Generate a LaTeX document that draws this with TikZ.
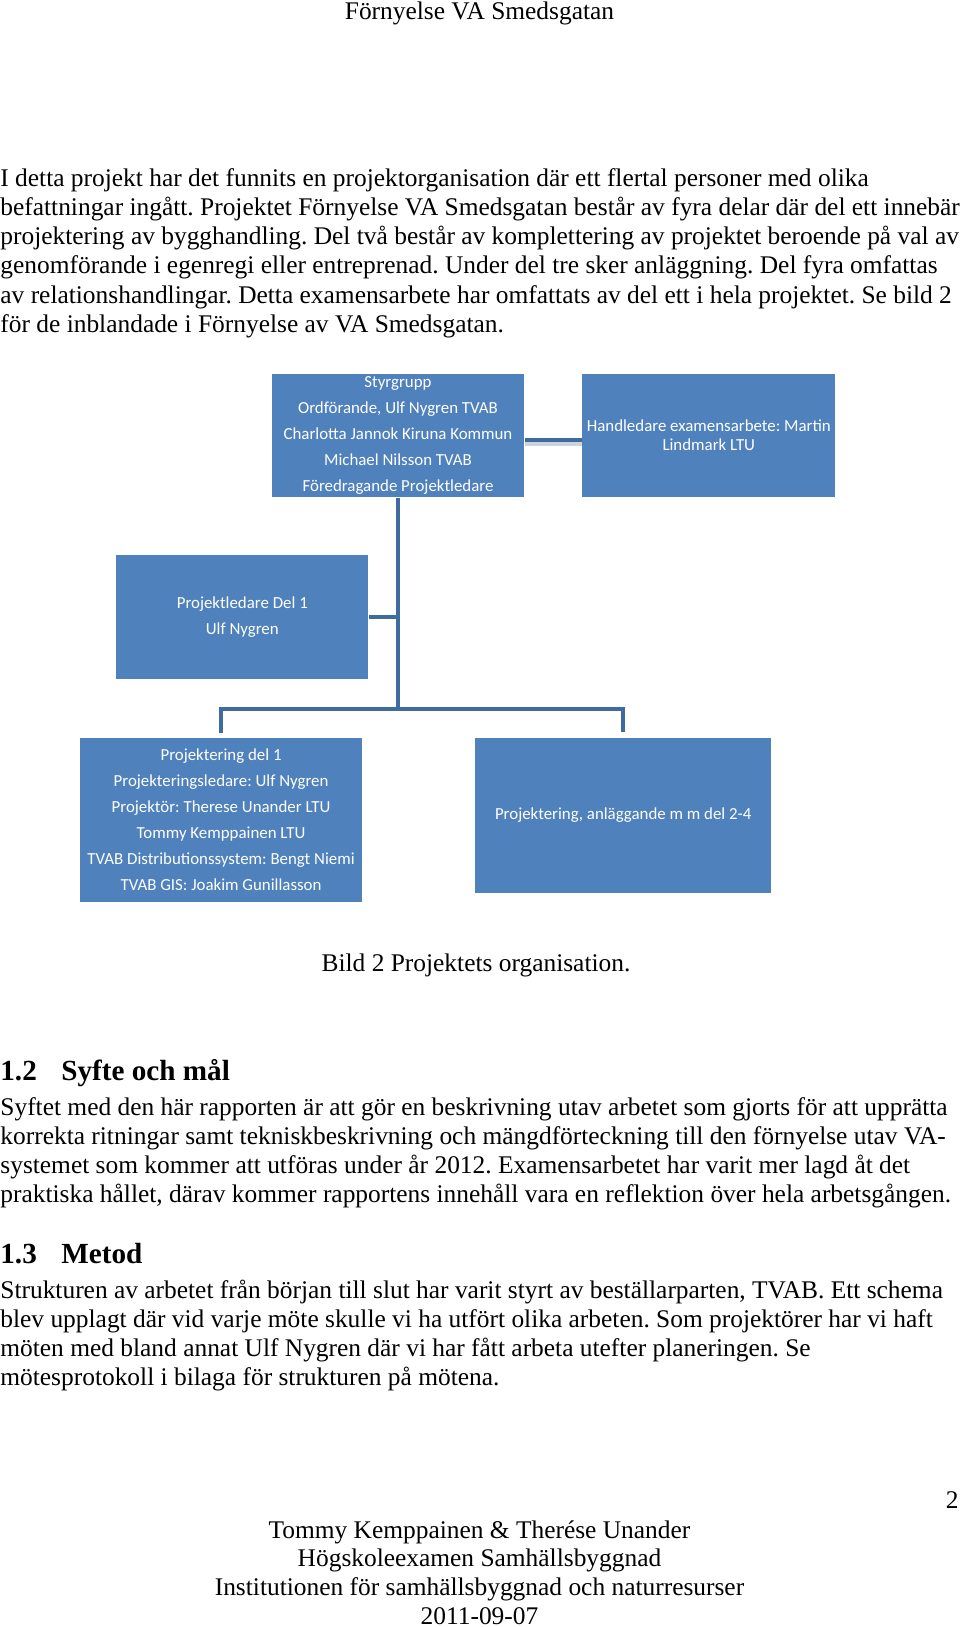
\documentclass[tikz,border=0pt]{standalone}
\usepackage{fontspec}
\setmainfont{Liberation Serif}
\newfontfamily\boxfont{Carlito}
\usetikzlibrary{positioning,calc}
\frenchspacing

\definecolor{boxblue}{HTML}{4F81BD}
\definecolor{lineblue}{HTML}{3F6C9F}
\definecolor{shadowgray}{HTML}{CDD3DB}

\tikzset{
	bodytext/.style={anchor=base west, inner sep=0pt, font=\fontsize{12.2}{14}\selectfont},
	centertext/.style={anchor=base, inner sep=0pt, font=\fontsize{12.2}{14}\selectfont},
	headtext/.style={anchor=base west, inner sep=0pt, font=\fontsize{14}{16}\selectfont\bfseries},
	orgbox/.style 2 args={rectangle, fill=boxblue, text=white, align=center, inner sep=0pt,
		minimum width=#1*0.48pt, minimum height=#2*0.48pt,
		font=\boxfont\fontsize{8.1}{12.5}\selectfont},
	link/.style={draw=lineblue, line width=2pt},
}

\begin{document}
\begin{tikzpicture}[x=0.48pt,y=-0.48pt]

	\useasboundingbox (0,0) rectangle (960,1627);

	% header
	\node [centertext] (header) at (479.5,19.7) {Förnyelse VA Smedsgatan};

	% first paragraph
	\foreach \txt [count=\i from 0] in {
		{I detta projekt har det funnits en projektorganisation där ett flertal personer med olika},
		{befattningar ingått. Projektet Förnyelse VA Smedsgatan består av fyra delar där del ett innebär},
		{projektering av bygghandling. Del två består av komplettering av projektet beroende på val av},
		{genomförande i egenregi eller entreprenad. Under del tre sker anläggning. Del fyra omfattas},
		{av relationshandlingar. Detta examensarbete har omfattats av del ett i hela projektet. Se bild 2},
		{för de inblandade i Förnyelse av VA Smedsgatan.}}
		\node [bodytext] (intro\i) at (0,{186.8+29.05*\i}) {\txt};

	% organisation chart
	\node [orgbox={252.2}{123.5}] (styr) at (398,435.4)
		{Styrgrupp\\Ordförande, Ulf Nygren TVAB\\Charlotta Jannok Kiruna Kommun\\Michael Nilsson TVAB\\Föredragande Projektledare};
	\node [orgbox={253.2}{123.5}, font=\boxfont\fontsize{8.1}{9}\selectfont] (handl) at (708.8,435.4)
		{Handledare examensarbete: Martin\\Lindmark LTU};
	\node [orgbox={252.2}{123.5}] (pl) at (242.3,617) {Projektledare Del 1\\Ulf Nygren};
	\node [orgbox={282.3}{163.9}] (proj1) at (221.05,819.9)
		{Projektering del 1\\Projekteringsledare: Ulf Nygren\\Projektör: Therese Unander LTU\\Tommy Kemppainen LTU\\TVAB Distributionssystem: Bengt Niemi\\TVAB GIS: Joakim Gunillasson};
	\node [orgbox={295.8}{154.6}] (proj2) at (623.2,815.2) {Projektering, anläggande m m del 2-4};

	\coordinate (split) at (398,708.8);

	\draw [draw=shadowgray, line width=2.6pt] ([yshift=-4pt]styr.east) -- ([yshift=-4pt]handl.west);
	\draw [link] ([yshift=-2.2pt]styr.east) -- ([yshift=-2.2pt]handl.west);
	\draw [link] (styr.south) -- (split);
	\draw [link] (pl.east) -- (pl.east -| split);
	\draw [link, shorten >=2.4pt] (split) -| (proj1.north);
	\draw [link, shorten >=2.4pt] (split) -| (proj2.north);

	% caption
	\node [centertext] (caption) at (476,971.5) {Bild 2 Projektets organisation.};

	% 1.2
	\node [headtext] (secA) at (0,1080) {1.2};
	\node [headtext] (secAtitle) at (61,1080) {Syfte och mål};
	\foreach \txt [count=\i from 0] in {
		{Syftet med den här rapporten är att gör en beskrivning utav arbetet som gjorts för att upprätta},
		{korrekta ritningar samt tekniskbeskrivning och mängdförteckning till den förnyelse utav VA-},
		{systemet som kommer att utföras under år 2012. Examensarbetet har varit mer lagd åt det},
		{praktiska hållet, därav kommer rapportens innehåll vara en reflektion över hela arbetsgången.}}
		\node [bodytext] (aim\i) at (0,{1115.7+29.05*\i}) {\txt};

	% 1.3
	\node [headtext] (secB) at (0,1263) {1.3};
	\node [headtext] (secBtitle) at (61,1263) {Metod};
	\foreach \txt [count=\i from 0] in {
		{Strukturen av arbetet från början till slut har varit styrt av beställarparten, TVAB. Ett schema},
		{blev upplagt där vid varje möte skulle vi ha utfört olika arbeten. Som projektörer har vi haft},
		{möten med bland annat Ulf Nygren där vi har fått arbeta utefter planeringen. Se},
		{mötesprotokoll i bilaga för strukturen på mötena.}}
		\node [bodytext] (method\i) at (0,{1298.3+29.05*\i}) {\txt};

	% footer
	\node [centertext, anchor=base east] (pagenum) at (959,1508) {2};
	\foreach \txt [count=\i from 0] in {
		{Tommy Kemppainen \& Therése Unander},
		{Högskoleexamen Samhällsbyggnad},
		{Institutionen för samhällsbyggnad och naturresurser},
		{2011-09-07}}
		\node [centertext] (footer\i) at (479.5,{1538+28.7*\i}) {\txt};

\end{tikzpicture}
\end{document}
